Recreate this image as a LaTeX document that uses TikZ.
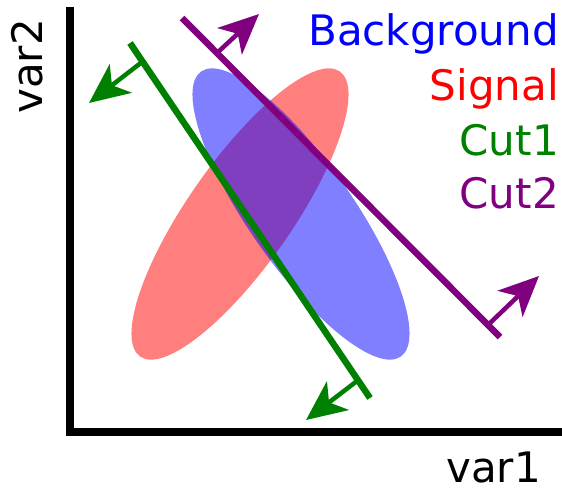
\documentclass[tikz,border=0pt]{standalone}
\usepackage{fontspec}
\setmainfont{DejaVu Sans}
\usetikzlibrary{arrows.meta}
\definecolor{cgreen}{RGB}{0,128,0}
\definecolor{cpurple}{RGB}{128,0,128}
\tikzset{
  axisline/.style={line width=8pt, black},
  cutline/.style={line width=6.5pt},
  cutarrow/.style={line width=4.5pt, -{Stealth[length=40pt,width=36pt,inset=11pt]}},
  lbl/.style={font=\fontsize{42}{50}\selectfont, inner sep=0pt},
  blob/.style={fill opacity=0.5}
}
\begin{document}
\begin{tikzpicture}[x=1pt,y=-1pt]
\useasboundingbox (0,0) rectangle (562,488);
% ellipses
\fill[red, blob, shift={(240,214)}, rotate=55] (0,0) ellipse [x radius=174pt, y radius=52pt];
\fill[blue, blob, shift={(301,214)}, rotate=-55] (0,0) ellipse [x radius=174pt, y radius=52pt];
% axes
\coordinate (top) at (70,7);
\coordinate (corner) at (70,432);
\coordinate (right) at (562,432);
\draw[axisline] (top) -- (70,436);
\draw[axisline] (66,432) -- (right);
% cut 1
\coordinate (c1a) at (130,43);
\coordinate (c1b) at (370,398);
\coordinate (c1t1) at (142,62);
\coordinate (c1h1) at (89,103);
\coordinate (c1t2) at (357,381);
\coordinate (c1h2) at (306,420);
\draw[cutline, cgreen] (c1a) -- (c1b);
\draw[cutarrow, cgreen] (c1t1) -- (c1h1);
\draw[cutarrow, cgreen] (c1t2) -- (c1h2);
% cut 2
\coordinate (c2a) at (182,18);
\coordinate (c2b) at (500,337);
\coordinate (c2t1) at (217,53);
\coordinate (c2h1) at (259,14);
\coordinate (c2t2) at (488,325);
\coordinate (c2h2) at (539,276);
\draw[cutline, cpurple] (c2a) -- (c2b);
\draw[cutarrow, cpurple] (c2t1) -- (c2h1);
\draw[cutarrow, cpurple] (c2t2) -- (c2h2);
% legend
\node[lbl, blue, anchor=base east] (lb) at (559,45) {Background};
\node[lbl, red, anchor=base east] (ls) at (559,100) {Signal};
\node[lbl, cgreen, anchor=base east] (lc1) at (559,155) {Cut1};
\node[lbl, cpurple, anchor=base east] (lc2) at (559,208) {Cut2};
% axis labels
\node[lbl, anchor=base west, text depth=0pt] (x) at (446,482) {var1};
\node[lbl, anchor=base west, rotate=90] (y) at (42,114) {var2};
\end{tikzpicture}
\end{document}
